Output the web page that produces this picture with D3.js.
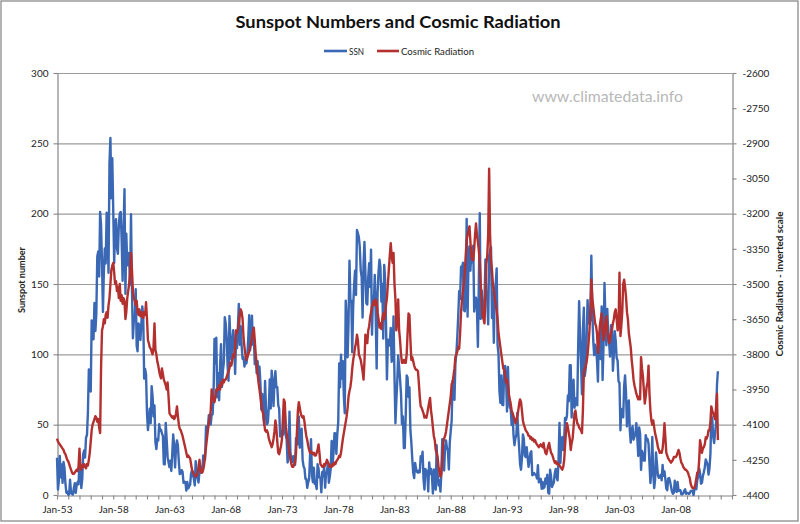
<!DOCTYPE html>
<html><head><meta charset="utf-8">
<script src="https://cdn.jsdelivr.net/npm/d3@7"></script>
<style>html,body{margin:0;padding:0;background:#fff;} svg{display:block;}</style>
</head><body>
<svg id="chart" width="800" height="524"></svg>
<script>
const chartTitle = "Sunspot Numbers and Cosmic Radiation";
const seriesNames = ["SSN", "Cosmic Radiation"];
const leftAxisTitle = "Sunspot number";
const rightAxisTitle = "Cosmic Radiation  - inverted scale";
const watermark = "www.climatedata.info";
const startYear = 1953;            // monthly data, first month Jan 1953
const xAxisYears = [1953, 2013];   // axis span
const xLabelYears = [1953, 1958, 1963, 1968, 1973, 1978, 1983, 1988, 1993, 1998, 2003, 2008];
const leftTicks = [0, 50, 100, 150, 200, 250, 300];
const rightTicks = [-4400, -4250, -4100, -3950, -3800, -3650, -3500, -3350, -3200, -3050, -2900, -2750, -2600];

// Monthly sunspot numbers, one row per year
const ssnByYear = [
[26.5,3.9,10,27.8,12.5,21.8,8.6,23.5,19.3,8.2,1.6,2.5],
[0.2,0.5,10.9,1.8,0.8,0.2,4.8,8.4,1.5,7,9.2,7.6],
[23.1,20.8,4.9,11.3,28.9,31.7,26.7,40.7,42.7,58.5,89.2,76.9],
[73.6,124,118.4,110.7,136.6,116.6,129.1,169.6,173.2,155.3,201.3,192.1],
[165,130.2,157.4,175.2,164.6,200.7,187.2,158,235.8,253.8,210.9,239.4],
[202.5,164.9,190.7,196,175.3,171.5,191.4,200.2,201.2,181.5,152.3,187.6],
[217.4,143.1,185.7,163.3,172,168.7,149.6,199.6,145.2,111.4,124,125],
[146.3,106,102.2,122,119.6,110.2,121.7,134.1,127.2,82.8,89.6,85.6],
[57.9,46.1,53,61.4,51,77.4,70.2,55.8,63.6,37.7,32.6,39.9],
[38.7,50.3,45.6,46.4,43.7,42,21.8,21.8,51.3,39.5,26.9,23.2],
[19.8,24.4,17.1,29.3,43,35.9,19.6,33.2,38.8,35.3,23.4,14.9],
[15.3,17.7,16.5,8.6,9.5,9.1,3.1,9.3,4.7,6.1,7.4,15.1],
[17.5,14.2,11.7,6.8,24.1,15.9,11.9,8.9,16.8,20.1,15.8,17],
[28.2,24.4,25.3,48.7,45.3,47.7,56.7,51.2,50.2,57.2,57.2,70.4],
[110.9,93.6,111.8,69.5,86.5,67.3,91.5,107.2,76.8,88.2,94.3,126.4],
[121.8,111.9,92.2,81.2,127.2,110.3,96.1,109.3,117.2,107.7,86,109.8],
[104.4,120.5,135.8,106.8,120,106,96.8,98,91.3,95.7,93.5,97.9],
[111.5,127.8,102.9,109.5,127.5,106.8,112.5,93,99.5,86.6,95.2,83.5],
[91.3,79,60.7,71.8,57.5,49.8,81,61.4,50.2,51.7,63.2,82.2],
[61.5,88.4,80.1,63.2,80.5,88,76.5,76.8,64,61.3,41.6,45.3],
[43.4,42.9,46,57.7,42.4,39.5,23.1,25.6,59.3,30.7,23.9,23.3],
[27.6,26,21.3,40.3,39.5,36,55.8,33.6,40.2,47.1,25,20.5],
[18.9,11.5,11.5,5.1,9,11.4,28.2,39.7,13.9,9.1,19.4,7.8],
[8.1,4.3,21.9,18.8,12.4,12.2,1.9,16.4,13.5,20.6,5.2,15.3],
[16.4,23.1,8.7,12.9,18.6,38.5,21.4,30.1,44,43.8,29.1,43.2],
[51.9,93.6,76.5,99.7,82.7,95.1,70.4,58.1,138.2,125.1,97.9,122.7],
[166.6,137.5,138,101.5,134.4,149.5,159.4,142.2,188.4,186.2,183.3,176.3],
[159.6,155,126.2,164.1,179.9,157.3,136.3,135.4,155,164.7,147.9,174.4],
[114,141.3,135.5,156.4,127.5,90,143.8,158.7,167.3,162.4,137.5,150.1],
[111.2,163.6,153.8,122,82.2,110.4,106.1,107.6,118.8,94.7,98.1,127],
[84.3,51,66.5,80.7,99.2,91.1,82.2,71.8,50.3,55.8,33.3,33.4],
[57,85,83.5,69.7,76.4,46.1,37.4,25.5,15.7,12,22.8,18.7],
[16.5,15.9,17.2,16.2,27.5,24.2,30.7,11.1,3.9,18.6,16.2,17.3],
[2.5,23.2,15.1,18.5,13.7,1.1,18.1,7.4,3.8,35.4,15.2,6.8],
[10.4,2.4,14.7,39.6,33,17.4,33.9,38.8,33.3,31.6,18.1,37.2],
[45.5,53,81.1,78.4,67.6,93.8,100.3,112.1,127.4,144.8,139.3,162.3],
[161.3,165.1,131.4,130.6,138.5,196.2,126.9,168.9,176.7,159.4,173,165.5],
[177.3,130.5,140.3,140.3,132.2,105.4,149.4,200.3,125.2,145.5,131.4,129.7],
[136.9,167.5,141.9,140,121.3,169.7,173.7,176.3,125.8,144.1,108.2,144.4],
[150,161.1,106.7,99.8,73.6,65.5,85,64.1,63.9,88.7,91.8,82.6],
[59.3,91,69.8,62.2,61.3,49.8,57.9,42.4,35.4,40.5,42.7,58.3],
[44,33,22,18,26,43,40,28,27,34,27,20],
[24.2,29.9,31.1,14,14.5,15.6,14.5,14.3,11.8,21.1,9,10],
[11.5,4.4,9.2,4.8,5.5,11.8,8.2,14.4,1.6,0.9,17.9,13.3],
[5.7,7.6,8.7,15.5,18.5,12.7,10.4,24.4,51.3,22.8,39,41.2],
[31.9,40.3,54.8,53.4,56.3,70.7,66.6,92.2,92.2,55.1,74,81.9],
[62,66.3,68.8,63.7,106.4,137.7,113.5,93.7,71.5,116.7,133.2,84.6],
[90.1,112.9,138.5,125.5,121.6,124.9,170.1,130.5,109.7,99.4,106.8,104.4],
[95.6,80.6,113.5,107.7,96.6,134,81.8,106.4,150.7,125.5,106.5,132.2],
[114.1,107.4,98.4,120.7,120.8,88.3,99.6,116.4,109.6,97.5,95.5,80.8],
[79.7,46,61.1,60,55.2,77.4,85,72.7,48.8,65.6,67.2,46.5],
[37.2,46,48.9,39.3,41.5,43.2,51.1,40.9,27.7,48,43.5,17.9],
[31.3,29.2,24.5,24.4,42.6,39.6,39.9,36.4,22.1,8.5,18,41.2],
[15.3,4.9,10.6,30.2,22.3,13.9,12.2,12.9,14.4,10.5,21.4,13.6],
[16.8,10.7,4.5,3.4,11.7,12.1,9.7,6,2.4,0.9,1.7,10.1],
[3.4,2.1,9.3,2.9,3.2,3.4,0.5,0.5,1.1,2.9,4.1,0.8],
[1.5,1.4,0.7,1.2,2.9,2.9,3.2,0,4.3,4.8,4.1,10.8],
[13.2,18.8,15.4,8,8.7,13.6,16.1,19.6,25.2,23.5,21.6,14.5],
[19,29.4,56.2,54.4,41.6,37,43.9,50.6,78,88]
];

// Monthly cosmic radiation (negated counts, right axis), one row per year
const cosmicByYear = [
[-4160,-4172,-4178,-4184,-4190,-4196,-4202,-4208,-4220,-4226,-4238,-4250],
[-4256,-4268,-4280,-4292,-4304,-4310,-4310,-4304,-4298,-4292,-4298,-4280],
[-4202,-4280,-4292,-4274,-4280,-4268,-4280,-4286,-4268,-4274,-4250,-4220],
[-4172,-4124,-4100,-4088,-4076,-4064,-4070,-4088,-4076,-4112,-4136,-3860],
[-3698,-3680,-3650,-3668,-3632,-3620,-3644,-3590,-3560,-3500,-3440,-3422],
[-3410,-3452,-3500,-3488,-3530,-3512,-3560,-3500,-3572,-3548,-3584,-3560],
[-3572,-3650,-3620,-3560,-3530,-3500,-3452,-3368,-3440,-3530,-3560,-3572],
[-3590,-3572,-3620,-3632,-3608,-3638,-3620,-3632,-3644,-3620,-3632,-3578],
[-3650,-3740,-3752,-3770,-3776,-3788,-3800,-3770,-3668,-3782,-3800,-3830],
[-3848,-3872,-3890,-3902,-3860,-3884,-3908,-3920,-3932,-3950,-3920,-3980],
[-4052,-4058,-4064,-4070,-4064,-4076,-4070,-4052,-4022,-4064,-4100,-4118],
[-4124,-4136,-4148,-4166,-4184,-4202,-4220,-4238,-4232,-4238,-4244,-4268],
[-4292,-4304,-4310,-4316,-4322,-4316,-4310,-4280,-4250,-4292,-4304,-4304],
[-4292,-4268,-4232,-4196,-4160,-4124,-4094,-4070,-4040,-3950,-3980,-3992],
[-4004,-3980,-3950,-3956,-3944,-3932,-3950,-3920,-3932,-3908,-3920,-3908],
[-3908,-3896,-3884,-3872,-3860,-3836,-3848,-3824,-3800,-3812,-3770,-3698],
[-3710,-3692,-3668,-3632,-3608,-3620,-3650,-3728,-3770,-3800,-3824,-3812],
[-3800,-3788,-3770,-3752,-3728,-3704,-3686,-3740,-3800,-3848,-3884,-3920],
[-3950,-3980,-4010,-4040,-4052,-4088,-4124,-4130,-4124,-4136,-4160,-4172],
[-4184,-4196,-4184,-4160,-4130,-4082,-4112,-4172,-4220,-4226,-4208,-4190],
[-4160,-4070,-3992,-4004,-4100,-4136,-4160,-4190,-4220,-4244,-4268,-4280],
[-4280,-4268,-4262,-4220,-4130,-4040,-4004,-4028,-4052,-4064,-4070,-4064],
[-4088,-4124,-4148,-4166,-4190,-4208,-4220,-4214,-4220,-4226,-4220,-4232],
[-4232,-4220,-4208,-4184,-4220,-4268,-4274,-4280,-4280,-4268,-4274,-4262],
[-4250,-4262,-4268,-4280,-4274,-4280,-4268,-4274,-4262,-4268,-4256,-4250],
[-4244,-4232,-4238,-4220,-4190,-4160,-4136,-4112,-4088,-4064,-4028,-3980],
[-3956,-3938,-3908,-3860,-3824,-3800,-3770,-3752,-3716,-3740,-3800,-3812],
[-3824,-3848,-3872,-3908,-3830,-3716,-3740,-3752,-3698,-3680,-3644,-3620],
[-3596,-3584,-3572,-3590,-3566,-3578,-3620,-3650,-3686,-3668,-3692,-3650],
[-3626,-3650,-3632,-3590,-3560,-3500,-3440,-3380,-3326,-3380,-3410,-3368],
[-3500,-3566,-3698,-3650,-3566,-3698,-3740,-3800,-3836,-3836,-3824,-3836],
[-3836,-3800,-3710,-3626,-3632,-3740,-3824,-3812,-3830,-3848,-3860,-3866],
[-3866,-3872,-3920,-3980,-4022,-4028,-4040,-4052,-4070,-4064,-4070,-4052],
[-4028,-4004,-3986,-4040,-4070,-4112,-4148,-4166,-4208,-4220,-4238,-4280],
[-4304,-4322,-4310,-4250,-4178,-4160,-4148,-4130,-4100,-4070,-4040,-4010],
[-3980,-3926,-3920,-3890,-3860,-3812,-3800,-3788,-3770,-3776,-3710,-3620],
[-3566,-3530,-3500,-3452,-3380,-3314,-3290,-3272,-3254,-3320,-3380,-3398],
[-3398,-3350,-3290,-3242,-3290,-3320,-3356,-3410,-3500,-3560,-3638,-3650],
[-3668,-3560,-3416,-3380,-3290,-3008,-3290,-3398,-3440,-3500,-3530,-3560],
[-3590,-3614,-3650,-3710,-3740,-3770,-3800,-3830,-3860,-3866,-3890,-3920],
[-3908,-3932,-3968,-3992,-4010,-4040,-4052,-4064,-4076,-4094,-4082,-4064],
[-4040,-4010,-3992,-4004,-4040,-4082,-4100,-4112,-4124,-4130,-4136,-4148],
[-4148,-4160,-4154,-4166,-4160,-4172,-4166,-4178,-4184,-4190,-4196,-4190],
[-4184,-4190,-4196,-4178,-4202,-4220,-4226,-4208,-4190,-4178,-4202,-4220],
[-4226,-4238,-4250,-4262,-4256,-4268,-4262,-4268,-4274,-4280,-4286,-4292],
[-4280,-4250,-4190,-4130,-4094,-4112,-4136,-4160,-4208,-4178,-4160,-4112],
[-4052,-4040,-4070,-4094,-4100,-4112,-4118,-4124,-4136,-4040,-3878,-3860],
[-3854,-3830,-3800,-3752,-3698,-3620,-3482,-3560,-3596,-3632,-3668,-3680],
[-3710,-3794,-3752,-3680,-3650,-3626,-3692,-3740,-3710,-3668,-3638,-3692],
[-3728,-3752,-3740,-3710,-3692,-3668,-3650,-3620,-3608,-3650,-3698,-3680],
[-3452,-3722,-3680,-3620,-3500,-3482,-3512,-3554,-3620,-3650,-3710,-3740],
[-3770,-3824,-3860,-3908,-3932,-3950,-3968,-3980,-3992,-3980,-3992,-3812],
[-3860,-3896,-3950,-4010,-3980,-3938,-3920,-3848,-3968,-4040,-4082,-4100],
[-4082,-4112,-4136,-4154,-4172,-4196,-4208,-4220,-4214,-4220,-4202,-4160],
[-4094,-4160,-4220,-4232,-4244,-4250,-4256,-4262,-4256,-4250,-4238,-4238],
[-4238,-4232,-4220,-4208,-4220,-4244,-4262,-4268,-4280,-4286,-4292,-4292],
[-4298,-4304,-4316,-4328,-4352,-4364,-4370,-4370,-4370,-4352,-4328,-4304],
[-4304,-4250,-4166,-4190,-4220,-4202,-4196,-4184,-4154,-4160,-4148,-4124],
[-4124,-4088,-4022,-4040,-4052,-4064,-4076,-4028,-3968,-4166]
];

const ssn = ssnByYear.flat();
const cosmic = cosmicByYear.flat();
const monthDate = i => new Date(startYear, i, 1);

const colors = { ssn: "#3a68b4", cosmic: "#b3302f" };
const plot = { left: 57, right: 732, top: 73, bottom: 495 };
const FONT = "Lato, 'Open Sans', sans-serif";

const svg = d3.select("#chart");
svg.append("rect").attr("x", 1).attr("y", 1).attr("width", 797).attr("height", 520)
  .attr("fill", "#fff").attr("stroke", "#8a8a8a").attr("stroke-width", 1.3);

const x = d3.scaleTime()
  .domain([new Date(xAxisYears[0], 0, 1), new Date(xAxisYears[1], 0, 1)])
  .range([plot.left, plot.right]);
const yL = d3.scaleLinear().domain([leftTicks[0], leftTicks[leftTicks.length - 1]]).range([plot.bottom, plot.top]);
const yR = d3.scaleLinear().domain([rightTicks[0], rightTicks[rightTicks.length - 1]]).range([plot.bottom, plot.top]);

// gridlines
svg.append("g").selectAll("line").data(leftTicks.slice(1)).join("line")
  .attr("x1", plot.left).attr("x2", plot.right)
  .attr("y1", d => yL(d) + 0.5).attr("y2", d => yL(d) + 0.5)
  .attr("stroke", "#9c9c9c").attr("stroke-width", 1.2);

function styleAxis(g) {
  g.selectAll(".domain").attr("stroke", "#868686").attr("stroke-width", 1.2);
  g.selectAll(".tick line").attr("stroke", "#868686").attr("stroke-width", 1.1);
  g.selectAll("text").attr("fill", "#222").style("font-family", FONT).style("font-size", "10px");
}

// left axis
svg.append("g").attr("transform", `translate(${plot.left + 0.5},0)`)
  .call(d3.axisLeft(yL).tickValues(leftTicks).tickSize(4).tickSizeOuter(0).tickPadding(5).tickFormat(d3.format("d")))
  .call(styleAxis);

// right axis
svg.append("g").attr("transform", `translate(${plot.right + 0.5},0)`)
  .call(d3.axisRight(yR).tickValues(rightTicks).tickSize(4).tickSizeOuter(0).tickPadding(6).tickFormat(d => String(d)))
  .call(styleAxis);

// bottom axis: yearly ticks, labels every five years
const yearTicks = d3.range(xAxisYears[0], xAxisYears[1] + 1).map(y => new Date(y, 0, 1));
const fmt = d3.timeFormat("%b-%y");
svg.append("g").attr("transform", `translate(0,${plot.bottom + 0.5})`)
  .call(d3.axisBottom(x).tickValues(yearTicks).tickSize(4).tickSizeOuter(0).tickPadding(6)
    .tickFormat(d => xLabelYears.includes(d.getFullYear()) ? fmt(d) : ""))
  .call(styleAxis);

// series lines
const lineSSN = d3.line().x((d, i) => x(monthDate(i))).y(d => yL(d));
const lineCos = d3.line().x((d, i) => x(monthDate(i))).y(d => yR(d));
svg.append("path").datum(ssn).attr("d", lineSSN).attr("fill", "none")
  .attr("stroke", colors.ssn).attr("stroke-width", 2.4).attr("stroke-linejoin", "round");
svg.append("path").datum(cosmic).attr("d", lineCos).attr("fill", "none")
  .attr("stroke", colors.cosmic).attr("stroke-width", 2.4).attr("stroke-linejoin", "round");

// title
svg.append("text").attr("x", 398).attr("y", 28).attr("text-anchor", "middle")
  .style("font-family", FONT).style("font-weight", "bold").style("font-size", "17px")
  .attr("fill", "#111").attr("textLength", 325).attr("lengthAdjust", "spacingAndGlyphs")
  .text(chartTitle);

// legend
const legend = [
  { name: seriesNames[0], color: colors.ssn, x1: 324, x2: 347, tx: 349, tw: 15 },
  { name: seriesNames[1], color: colors.cosmic, x1: 377, x2: 399, tx: 401, tw: 73 }
];
const lg = svg.append("g");
legend.forEach(l => {
  lg.append("line").attr("x1", l.x1).attr("x2", l.x2).attr("y1", 51).attr("y2", 51)
    .attr("stroke", l.color).attr("stroke-width", 2.6);
  lg.append("text").attr("x", l.tx).attr("y", 54.5).text(l.name)
    .style("font-family", FONT).style("font-size", "10px").attr("fill", "#222")
    .attr("textLength", l.tw).attr("lengthAdjust", "spacingAndGlyphs");
});

// axis titles
svg.append("text").attr("transform", "translate(25,280) rotate(-90)").attr("text-anchor", "middle")
  .style("font-family", FONT).style("font-weight", "bold").style("font-size", "10px").attr("fill", "#222")
  .attr("textLength", 66).attr("lengthAdjust", "spacingAndGlyphs").text(leftAxisTitle);
svg.append("text").attr("transform", "translate(783,284) rotate(-90)").attr("text-anchor", "middle")
  .style("font-family", FONT).style("font-weight", "bold").style("font-size", "10px").attr("fill", "#222")
  .attr("textLength", 145).attr("lengthAdjust", "spacingAndGlyphs").text(rightAxisTitle);

// watermark
svg.append("text").attr("x", 532).attr("y", 102).text(watermark)
  .style("font-family", FONT).style("font-size", "15px").attr("fill", "#b8b8b8")
  .attr("textLength", 151).attr("lengthAdjust", "spacingAndGlyphs");
</script>
</body></html>
